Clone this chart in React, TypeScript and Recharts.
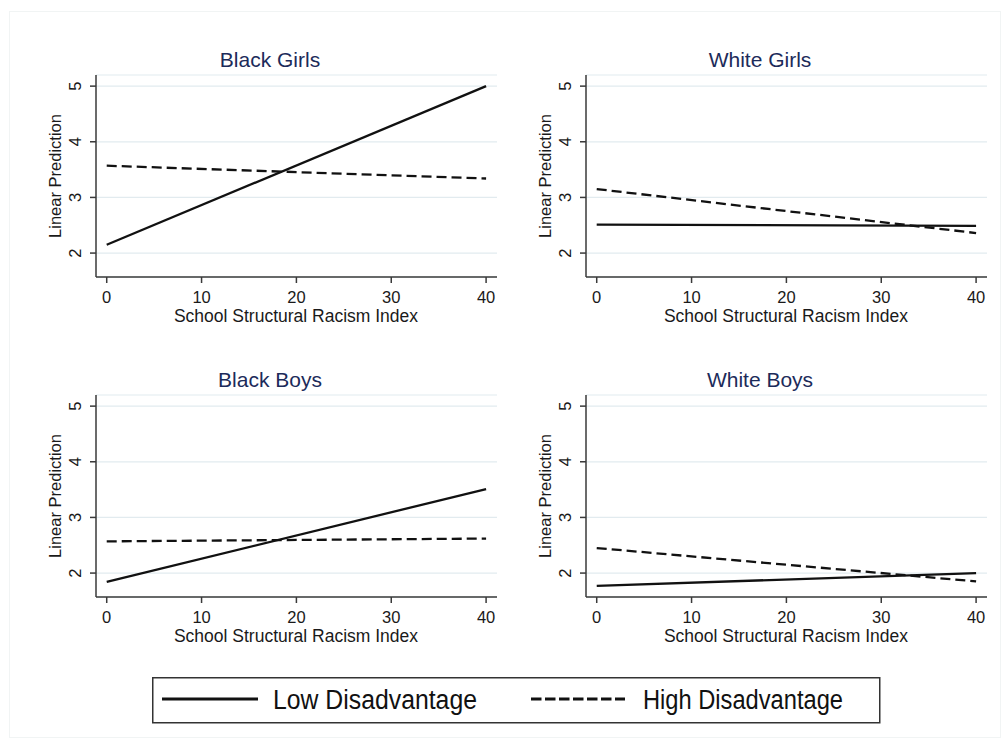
import React from 'react';
import { LineChart, Line, XAxis, YAxis, CartesianGrid } from 'recharts';

// predicted values at the two ends of the index (x = 0 and x = 40)
const xValues = [0, 40];
const groups = ['Black Girls', 'White Girls', 'Black Boys', 'White Boys'];
const lowDisadvantage = [
  [2.15, 5.0],
  [2.51, 2.49],
  [1.84, 3.51],
  [1.77, 2.0],
];
const highDisadvantage = [
  [3.57, 3.34],
  [3.15, 2.36],
  [2.57, 2.62],
  [2.45, 1.85],
];
const seriesNames = ['Low Disadvantage', 'High Disadvantage'];
const xTicks = [0, 10, 20, 30, 40];
const yTicks = [2, 3, 4, 5];

const FONT = '"Liberation Sans", Arial, Helvetica, sans-serif';
const AXIS = '#3a3a3a';
const TITLE = '#1c2b5a';

const YTick = (props: any) => {
  const { x, y, payload } = props;
  return (
    <text
      x={x}
      y={y}
      transform={`rotate(-90 ${x} ${y})`}
      textAnchor="middle"
      fontSize={16.5}
      fontFamily={FONT}
      fill="#1a1a1a"
    >
      {payload.value}
    </text>
  );
};

const Panel = ({ idx }: { idx: number }) => {
  const data = xValues.map((x, i) => ({
    x,
    low: lowDisadvantage[idx][i],
    high: highDisadvantage[idx][i],
  }));
  const col = idx % 2;
  const row = Math.floor(idx / 2);
  return (
    <div style={{ position: 'absolute', left: col * 490, top: 30 + row * 320, width: 505, height: 300 }}>
      <div style={{ position: 'absolute', left: 170, width: 200, top: 17, textAlign: 'center', fontFamily: FONT, fontSize: 21, color: TITLE, lineHeight: '26px' }}>
        {groups[idx]}
      </div>
      <div style={{ position: 'absolute', left: 55 - 100, top: 146 - 10, width: 200, height: 20, textAlign: 'center', fontFamily: FONT, fontSize: 16.5, color: '#1a1a1a', lineHeight: '20px', transform: 'rotate(-90deg)' }}>
        Linear Prediction
      </div>
      <div style={{ position: 'absolute', left: 296 - 200, width: 400, top: 276, textAlign: 'center', fontFamily: FONT, fontSize: 17.5, color: '#1a1a1a', lineHeight: '20px' }}>
        School Structural Racism Index
      </div>
      <LineChart width={505} height={300} data={data} margin={{ top: 45, right: 8, bottom: 23, left: 56 }}>
        <CartesianGrid horizontal vertical={false} stroke="#e2ebef" strokeWidth={1.2} />
        <XAxis
          dataKey="x"
          type="number"
          domain={[-1.13, 41.15]}
          ticks={xTicks}
          allowDataOverflow
          height={30}
          stroke={AXIS}
          strokeWidth={1.5}
          tickSize={6}
          tickMargin={8}
          tick={{ fontSize: 16.5, fill: '#1a1a1a', fontFamily: FONT }}
        />
        <YAxis
          type="number"
          domain={[1.57, 5.2]}
          ticks={yTicks}
          allowDataOverflow
          width={40}
          stroke={AXIS}
          strokeWidth={1.5}
          tickSize={6}
          tickMargin={9}
          tick={<YTick />}
        />
        <Line type="linear" dataKey="low" stroke="#111" strokeWidth={2.3} dot={false} isAnimationActive={false} />
        <Line type="linear" dataKey="high" stroke="#111" strokeWidth={2.3} strokeDasharray="10 5" dot={false} isAnimationActive={false} />
      </LineChart>
    </div>
  );
};

export default function App() {
  return (
    <div style={{ position: 'absolute', left: 0, top: 0, width: 1008, height: 742, background: '#fff', overflow: 'hidden' }}>
      <div style={{ position: 'absolute', left: 9, top: 11, width: 990, height: 725, border: '1px solid #f1f4f4' }} />
      {groups.map((g, i) => (
        <Panel key={g} idx={i} />
      ))}
      <svg style={{ position: 'absolute', left: 152, top: 677 }} width={730} height={47}>
        <rect x={0.75} y={0.75} width={727} height={45} fill="#fff" stroke="#333" strokeWidth={1.5} />
        <line x1={10} x2={106} y1={22} y2={22} stroke="#111" strokeWidth={3} />
        <text x={121} y={32} fontSize={27} fontFamily={FONT} fill="#111" textLength={204} lengthAdjust="spacingAndGlyphs">
          {seriesNames[0]}
        </text>
        <line x1={379} x2={473} y1={22} y2={22} stroke="#111" strokeWidth={3} strokeDasharray="10.5 3.5" />
        <text x={491} y={32} fontSize={27} fontFamily={FONT} fill="#111" textLength={200} lengthAdjust="spacingAndGlyphs">
          {seriesNames[1]}
        </text>
      </svg>
    </div>
  );
}
